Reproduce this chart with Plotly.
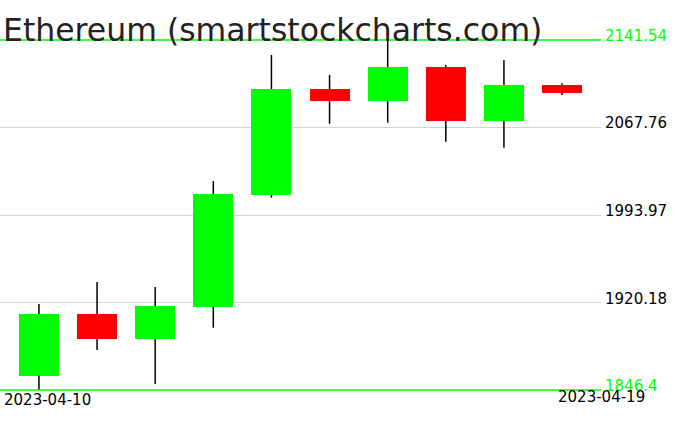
import plotly.graph_objects as go

dates = ["2023-04-10", "2023-04-11", "2023-04-12", "2023-04-13", "2023-04-14",
         "2023-04-15", "2023-04-16", "2023-04-17", "2023-04-18", "2023-04-19"]
opens = [1858.5, 1910.5, 1889.4, 1916.8, 2010.8, 2100.2, 2090.4, 2118.8, 2073.5, 2103.6]
highs = [1918.9, 1937.5, 1933.3, 2022.6, 2128.9, 2112.0, 2141.54, 2120.5, 2124.7, 2105.0]
lows = [1846.4, 1880.1, 1851.5, 1898.9, 2008.6, 2071.0, 2071.8, 2055.8, 2050.7, 2095.2]
closes = [1910.5, 1889.4, 1917.2, 2011.7, 2100.2, 2090.1, 2118.8, 2073.5, 2103.6, 2097.1]

y_min, y_max = 1846.4, 2141.54
grid_vals = [1920.18, 1993.97, 2067.76]
edge_vals = [1846.4, 2141.54]
title_text = "Ethereum (smartstockcharts.com)"

GREEN = "#00ff00"
RED = "#ff0000"

body_base = [min(o, c) for o, c in zip(opens, closes)]
body_len = [abs(c - o) for o, c in zip(opens, closes)]
body_col = [GREEN if c >= o else RED for o, c in zip(opens, closes)]

wx, wy = [], []
for d, o, h, l, c in zip(dates, opens, highs, lows, closes):
    top, bot = max(o, c), min(o, c)
    wx += [d, d, None, d, d, None]
    wy += [h, top, None, bot, l, None]

fig = go.Figure()
fig.add_trace(go.Scatter(x=wx, y=wy, mode="lines",
                         line=dict(color="black", width=1.5),
                         hoverinfo="skip", showlegend=False, cliponaxis=False))
fig.add_trace(go.Bar(x=dates, y=body_len, base=body_base, width=0.69,
                     marker=dict(color=body_col, line=dict(width=0)),
                     showlegend=False))

for yp in (0, 1):
    fig.add_shape(type="line", xref="paper", x0=0, x1=1, yref="paper", y0=yp, y1=yp,
                  line=dict(color=GREEN, width=1.5), layer="above")

label_font = dict(family="DejaVu Sans", size=15)
for v in grid_vals:
    fig.add_annotation(x=1, xref="paper", y=v, yref="y", text=f"{v:g}",
                       showarrow=False, xanchor="left", yanchor="bottom",
                       xshift=2, yshift=-7, font=dict(label_font, color="black"))
for v in edge_vals:
    fig.add_annotation(x=1, xref="paper", y=v, yref="y", text=f"{v:g}",
                       showarrow=False, xanchor="left", yanchor="bottom",
                       xshift=2, yshift=-7, font=dict(label_font, color=GREEN))

fig.add_annotation(x=0, xref="paper", y=0, yref="paper", text=dates[0],
                   showarrow=False, xanchor="left", yanchor="top",
                   xshift=2, yshift=1, font=dict(label_font, color="black"))
fig.add_annotation(x=1, xref="paper", y=0, yref="paper", text=dates[-1],
                   showarrow=False, xanchor="right", yanchor="top",
                   xshift=46, yshift=4, font=dict(label_font, color="black"))

fig.add_annotation(x=0, xref="paper", y=1, yref="paper", text=title_text,
                   showarrow=False, xanchor="left", yanchor="bottom",
                   xshift=1, yshift=-10,
                   font=dict(family="DejaVu Sans", size=31.5, color="#222222"))

fig.update_layout(
    width=676, height=431,
    margin=dict(l=0, r=75, t=40, b=41),
    paper_bgcolor="white", plot_bgcolor="white",
    bargap=0, showlegend=False,
    xaxis=dict(type="category", range=[-0.67, 9.67], showgrid=False,
               showticklabels=False, ticks="", zeroline=False, showline=False),
    yaxis=dict(range=[y_min, y_max], tickvals=grid_vals, showgrid=True,
               gridcolor="#d3d3d3", gridwidth=1, showticklabels=False,
               ticks="", zeroline=False, showline=False),
)

fig.write_html("out.html", config={"displayModeBar": False},
               post_script="document.body.style.margin='0';")
